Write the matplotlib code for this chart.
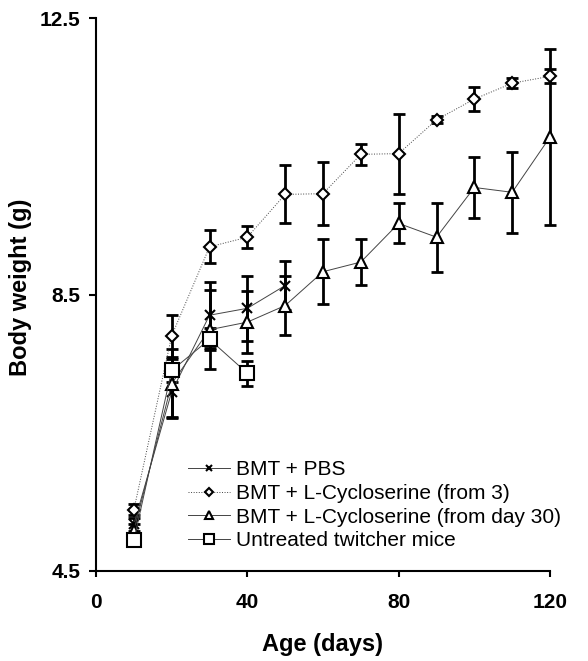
import numpy as np
import matplotlib
matplotlib.use("Agg")
import matplotlib.pyplot as plt

plt.rcParams['font.family'] = ['Liberation Sans', 'DejaVu Sans']

# data
days = [10, 20, 30, 40, 50, 60, 70, 80, 90, 100, 110, 120]

pbs_days = [10, 20, 30, 40, 50]
pbs = [5.17, 7.09, 8.20, 8.30, 8.63]
pbs_err = [0.10, 0.36, 0.48, 0.47, 0.36]

cyc3 = [5.38, 7.90, 9.19, 9.33, 9.95, 9.96, 10.53, 10.54, 11.03, 11.33, 11.56, 11.66]
cyc3_err = [0.08, 0.31, 0.24, 0.16, 0.42, 0.46, 0.15, 0.58, 0.05, 0.17, 0.07, 0.10]

cyc30 = [5.08, 7.21, 7.99, 8.10, 8.34, 8.83, 8.97, 9.53, 9.33, 10.05, 9.98, 10.78]
cyc30_err = [0.10, 0.50, 0.57, 0.45, 0.43, 0.47, 0.33, 0.29, 0.50, 0.44, 0.59, 1.27]

untr_days = [10, 20, 30, 40]
untr = [4.94, 7.40, 7.85, 7.36]
untr_err = [0.05, 0.17, 0.16, 0.18]

labels = ["BMT + PBS",
          "BMT + L-Cycloserine (from 3)",
          "BMT + L-Cycloserine (from day 30)",
          "Untreated twitcher mice"]

fig = plt.figure(figsize=(5.88, 6.61), dpi=100)
ax = fig.add_axes([96/588, 1-570.7/661, 454/588, 552.4/661])

series = [
    (pbs_days, pbs, pbs_err, 'x', 7, '-'),
    (days, cyc3, cyc3_err, 'D', 6, ':'),
    (days, cyc30, cyc30_err, '^', 8, '-'),
    (untr_days, untr, untr_err, 's', 10, '-'),
]

handles = []
for (x, y, e, m, ms, ls), lab in zip(series, labels):
    eb = ax.errorbar(x, y, yerr=e, fmt='none', ecolor='black', elinewidth=2.0,
                     capsize=4.5, capthick=2.0, zorder=2)
    for art in eb.lines[1] + eb.lines[2]:
        art.set_clip_on(False)
    ln, = ax.plot(x, y, linestyle=ls, color='#444444', linewidth=0.7,
                  marker=m, markersize=ms, markerfacecolor='white',
                  markeredgecolor='black', markeredgewidth=1.5, zorder=3,
                  label=lab, clip_on=False)
    handles.append(ln)

ax.set_xlim(0, 120)
ax.set_ylim(4.5, 12.5)
ax.set_xticks([0, 40, 80, 120])
ax.set_yticks([4.5, 8.5, 12.5])
ax.set_yticklabels(['4.5', '8.5', '12.5'])

for s in ['top', 'right']:
    ax.spines[s].set_visible(False)
for s in ['left', 'bottom']:
    ax.spines[s].set_linewidth(1.5)

ax.tick_params(axis='y', direction='out', length=5, width=1.5, pad=6)
ax.tick_params(axis='x', direction='out', length=4, width=1.5, pad=12)
for t in ax.get_xticklabels() + ax.get_yticklabels():
    t.set_fontsize(15)
    t.set_fontweight('bold')

ax.set_xlabel('Age (days)', fontsize=17, fontweight='bold')
ax.set_ylabel('Body weight (g)', fontsize=17, fontweight='bold')
ax.xaxis.set_label_coords(0.5, -0.112)
ax.yaxis.set_label_coords(-0.141, 0.513)

leg = ax.legend(handles=handles, loc='upper left',
                bbox_to_anchor=(178/588, 1-450/661), bbox_transform=fig.transFigure,
                frameon=False, fontsize=15, handlelength=2.0, handletextpad=0.3,
                labelspacing=0.22, borderpad=0, markerscale=0.7)

fig.savefig('out.png', dpi=100)
